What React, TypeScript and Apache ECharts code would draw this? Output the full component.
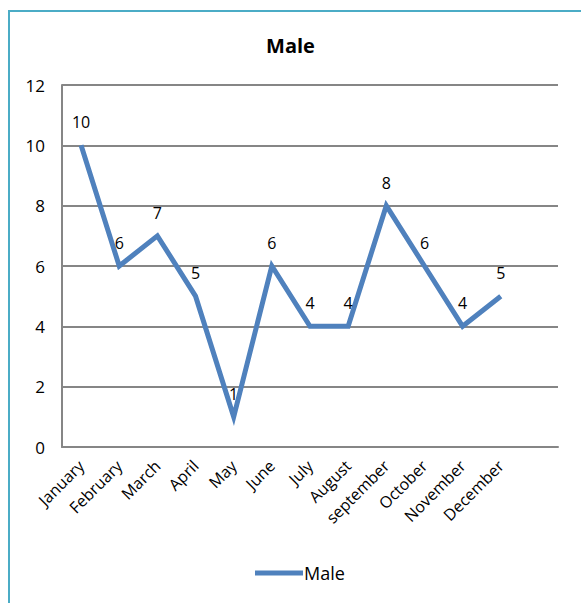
import React, { useEffect, useRef } from "react";
import * as echarts from "echarts";

const months = [
  "January", "February", "March", "April", "May", "June",
  "July", "August", "september", "October", "November", "December",
];
const maleValues = [10, 6, 7, 5, 1, 6, 4, 4, 8, 6, 4, 5];
const seriesName = "Male";

export default function App() {
  const ref = useRef<HTMLDivElement>(null);
  useEffect(() => {
    document.body.style.margin = "0";
    const chart = echarts.init(ref.current!, null, { renderer: "svg" });
    const font = "'Open Sans', 'Noto Sans', sans-serif";
    chart.setOption({
      animation: false,
      backgroundColor: "#ffffff",
      textStyle: { fontFamily: font },
      title: {
        text: "Male",
        left: "center",
        top: 30,
        textStyle: { fontFamily: font, fontSize: 20, fontWeight: "bold", color: "#000" },
      },
      graphic: [
        {
          type: "rect",
          shape: { x: 9, y: 11, width: 600, height: 620 },
          style: { fill: "none", stroke: "#4BACC6", lineWidth: 2 },
          silent: true,
        },
      ],
      legend: {
        bottom: 16,
        left: 250,
        itemWidth: 48,
        itemHeight: 5,
        itemGap: 4,
        icon: "rect",
        textStyle: { fontFamily: font, fontSize: 18, color: "#000", padding: [0, 0, 0, -4] },
        data: [seriesName],
      },
      grid: { left: 62, right: 23, top: 85, bottom: 156 },
      xAxis: {
        type: "category",
        data: months,
        max: 12,
        boundaryGap: true,
        axisLine: { show: true, lineStyle: { color: "#868686", width: 2 } },
        axisTick: { show: false },
        axisLabel: {
          interval: 0,
          rotate: 45,
          fontFamily: font,
          fontSize: 16,
          color: "#000",
          margin: 16,
        },
      },
      yAxis: {
        type: "value",
        min: 0,
        max: 12,
        interval: 2,
        axisLine: { show: true, lineStyle: { color: "#868686", width: 2 } },
        axisTick: { show: false },
        splitLine: { lineStyle: { color: "#868686", width: 2 } },
        axisLabel: { fontFamily: font, fontSize: 17, color: "#000", margin: 17 },
      },
      series: [
        {
          name: seriesName,
          type: "line",
          data: maleValues,
          symbol: "circle",
          symbolSize: 0.1,
          showSymbol: true,
          lineStyle: { color: "#4F81BD", width: 5, join: "miter" },
          itemStyle: { color: "#4F81BD" },
          label: {
            show: true,
            position: "top",
            distance: 15,
            fontFamily: font,
            fontSize: 16,
            color: "#000",
          },
        },
      ],
    });
    return () => chart.dispose();
  }, []);
  return <div ref={ref} style={{ width: 581, height: 603 }} />;
}
